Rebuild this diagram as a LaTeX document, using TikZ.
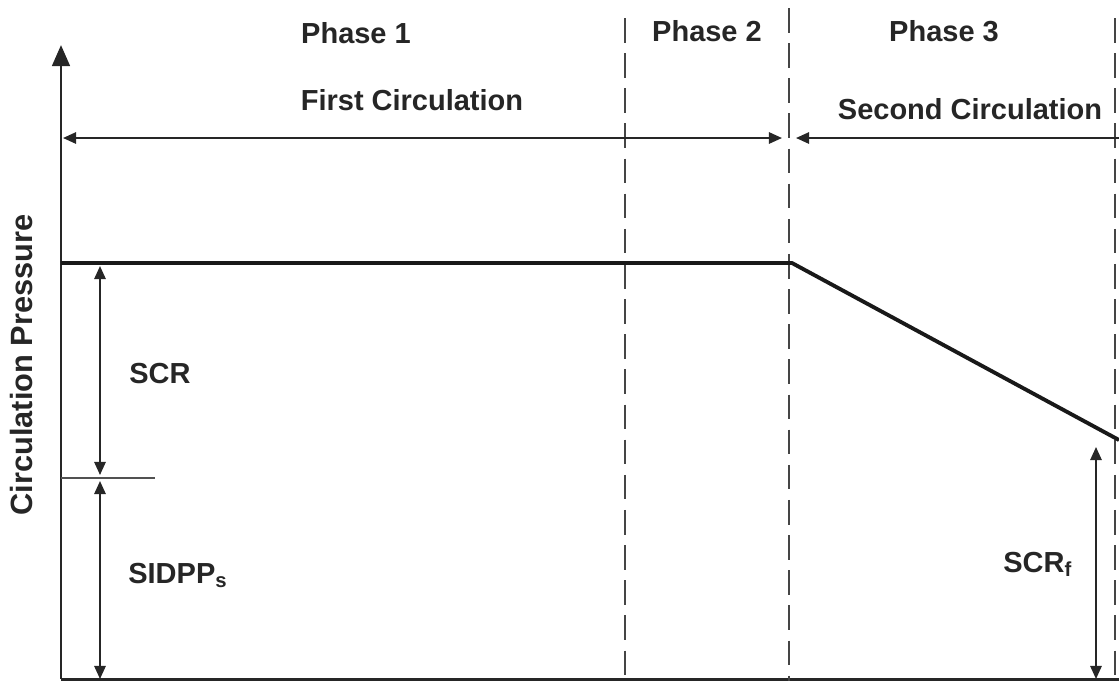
\documentclass[tikz,border=0pt]{standalone}
\usepackage{fontspec}
\setmainfont{Liberation Sans}
\usepackage{xcolor}
\usetikzlibrary{arrows.meta}
\definecolor{inkgray}{HTML}{262626}
\definecolor{dashgray}{HTML}{454545}

\begin{document}
\begin{tikzpicture}[x=0.02cm, y=-0.02cm,
    lbl/.style={font=\bfseries\fontsize{16.5}{19}\selectfont, text=inkgray, inner sep=0pt},
    phaseline/.style={draw=dashgray, line width=1.6pt, dash pattern=on 14pt off 6pt},
    dimarrow/.style={draw=inkgray, line width=1.1pt,
      {Triangle[length=7.5pt,width=6.5pt]}-{Triangle[length=7.5pt,width=6.5pt]}},
    axisline/.style={draw=inkgray, line width=1.7pt}]
  \useasboundingbox (0,0) rectangle (1119,681);

  % axes
  \coordinate (origin) at (61,679);
  \coordinate (ytop) at (61,45);
  \coordinate (xend) at (1119,679);
  \draw[axisline, -{Triangle[length=12pt,width=10pt]}] (origin) -- (ytop);
  \draw[axisline] (origin) -- (xend);

  % phase boundaries
  \coordinate (b1top) at (625,18);   \coordinate (b1bot) at (625,681);
  \coordinate (b2top) at (789,8);    \coordinate (b2bot) at (789,681);
  \coordinate (b3top) at (1115,18);  \coordinate (b3bot) at (1115,681);
  \draw[phaseline] (b1top) -- (b1bot);
  \draw[phaseline] (b2top) -- (b2bot);
  \draw[phaseline] (b3top) -- (b3bot);

  % circulation spans
  \coordinate (c1left) at (63,138);  \coordinate (c1right) at (782,138);
  \coordinate (c2left) at (796,138); \coordinate (c2right) at (1119,138);
  \draw[dimarrow] (c1left) -- (c1right);
  \draw[dimarrow, {Triangle[length=7.5pt,width=6.5pt]}-] (c2left) -- (c2right);

  % pressure curve
  \coordinate (start) at (61,263);
  \coordinate (bend) at (792,263);
  \coordinate (stop) at (1119,440);
  \draw[draw=black!90, line width=2.2pt, line join=round] (start) -- (bend) -- (stop);

  % SCR / SIDPP split
  \coordinate (tickl) at (61,478);
  \coordinate (tickr) at (155,478);
  \draw[draw=inkgray!80, line width=1pt] (tickl) -- (tickr);
  \coordinate (scrtop) at (100,266);  \coordinate (scrbot) at (100,475);
  \coordinate (sidtop) at (100,481);  \coordinate (sidbot) at (100,679);
  \draw[dimarrow] (scrtop) -- (scrbot);
  \draw[dimarrow] (sidtop) -- (sidbot);
  \coordinate (scrftop) at (1096,447); \coordinate (scrfbot) at (1096,679);
  \draw[dimarrow] (scrftop) -- (scrfbot);

  % labels
  \node[lbl, anchor=base] (phase1) at (356,43) {Phase 1};
  \node[lbl, anchor=base] (phase2) at (707,41) {Phase 2};
  \node[lbl, anchor=base] (phase3) at (944,41) {Phase 3};
  \node[lbl, anchor=base] (first) at (412,110) {First Circulation};
  \node[lbl, anchor=base] (second) at (970,119) {Second Circulation};
  \node[lbl, anchor=base west] (scr) at (129,383) {SCR};
  \node[lbl, anchor=base west] (sidpp) at (128,583) {SIDPP\textsubscript{s}};
  \node[lbl, anchor=base west] (scrf) at (1003,572) {SCR\textsubscript{f}};
  \node[lbl, font=\bfseries\fontsize{17.5}{20}\selectfont, rotate=90] (ylabel) at (22,365) {Circulation Pressure};
\end{tikzpicture}
\end{document}
